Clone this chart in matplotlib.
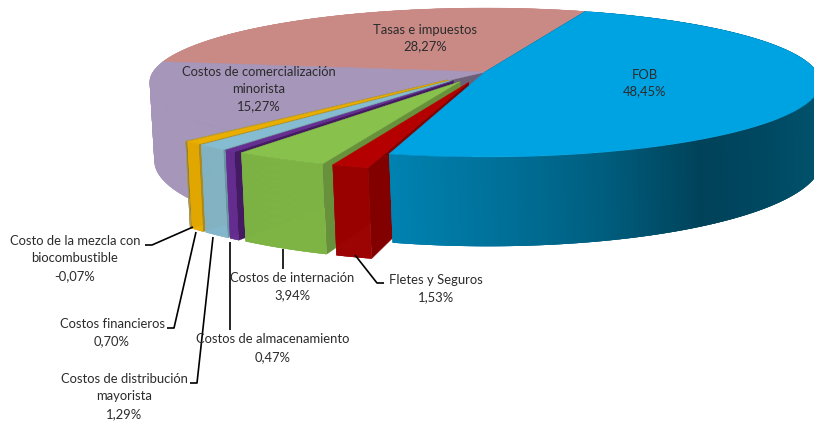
import matplotlib
matplotlib.use('Agg')

import matplotlib.pyplot as plt
import numpy as np

# values as printed on the chart, clockwise from FOB
categories = ['FOB', 'Fletes y Seguros', 'Costos de internación', 'Costos de almacenamiento',
              'Costos de distribución mayorista', 'Costos financieros',
              'Costo de la mezcla con biocombustible', 'Costos de comercialización minorista',
              'Tasas e impuestos']
values = [48.45, 1.53, 3.94, 0.47, 1.29, 0.70, -0.07, 15.27, 28.27]
value_labels = ['48,45%', '1,53%', '3,94%', '0,47%', '1,29%', '0,70%', '-0,07%', '15,27%', '28,27%']

top_colors = ['#00a3e2', '#b40000', '#88c14b', '#672e92', '#85bcd1', '#e9ae00', '#b09a50', '#a596ba', '#c98a86']
front_colors = ['#0082b0', '#9c0000', '#7db444', '#652c90', '#82b6ca', '#e9ae00', '#b09a50', '#a596ba', '#c98a86']
side_colors = ['#00465f', '#820000', '#67913a', '#441a62', '#6a94a4', '#a88a20', '#8a7a40', '#6c5f78', '#8a5f5c']

exploded = [False, True, True, True, True, True, True, False, False]

# projection of the pie disc onto the picture, in pixels
CX, CY, RX, RY, PERSP = 485, 72, 332, 73, 0.141
BOT_CX, BOT_CY, BOT_RY, BOT_SCALE = 488, 148.5, 84, 0.995
EXPLODE = 0.145
EXPLODE_X = 1.12
START_ANGLE = 20


def project(u, v, bottom=False):
    w = 1 - PERSP * np.asarray(v)
    if bottom:
        return BOT_CX + RX * BOT_SCALE * np.asarray(u) / w, BOT_CY + BOT_RY * np.asarray(v) / w
    return CX + RX * np.asarray(u) / w, CY + RY * np.asarray(v) / w


def slice_uv(a1, a2, offset, n=60):
    t = np.radians(np.linspace(a1, a2, n))
    mid = np.radians((a1 + a2) / 2)
    du, dv = offset * EXPLODE_X * np.sin(mid), -offset * np.cos(mid)
    return np.sin(t) + du, -np.cos(t) + dv, du, dv


def draw_poly(ax, xs, ys, color, z, lw=0.3):
    ax.fill(xs, ys, facecolor=color, edgecolor=color if lw else 'none', linewidth=lw, zorder=z)


def draw_slice(ax, a1, a2, offset, top, front, side, z, gradient=None):
    u, v, cu, cv = slice_uv(a1, a2, offset)
    tx, ty = project(u, v)
    bx, by = project(u, v, bottom=True)
    ctx, cty = project(cu, cv)
    cbx, cby = project(cu, cv, bottom=True)
    # cut face on the low angle side
    draw_poly(ax, [ctx, tx[0], bx[0], cbx], [cty, ty[0], by[0], cby], side, z)
    # outer wall as overlapping strips, so no seams show
    uw, vw, _, _ = slice_uv(a1, a2, offset, n=240)
    wx, wy = project(uw, vw)
    wbx, wby = project(uw, vw, bottom=True)
    for i in range(len(wx) - 1):
        j = min(i + 3, len(wx) - 1)
        if gradient is None:
            c = front
        else:
            xm = (wx[i] + wx[i + 1]) / 2
            c = [np.interp(xm, gradient[0], gradient[1][k]) for k in range(3)]
        draw_poly(ax, [wx[i], wx[j], wbx[j], wbx[i]], [wy[i], wy[j], wby[j], wby[i]], c, z + 0.1, lw=0)
    # top face
    draw_poly(ax, np.r_[ctx, tx], np.r_[cty, ty], top, z + 0.2)


fig = plt.figure(figsize=(8.14, 4.24), dpi=100)
ax = fig.add_axes([0, 0, 1, 1])
ax.set_xlim(0, 814)
ax.set_ylim(424, 0)
ax.axis('off')

shares = np.abs(values) / np.abs(values).sum() * 360
starts = START_ANGLE + np.r_[0, np.cumsum(shares)[:-1]]
ends = starts + shares

blue_wall = ([390, 500, 600, 700, 760, 814],
             [[0, 0, 0, 0, 0, 0],
              [0.51, 0.44, 0.37, 0.26, 0.28, 0.32],
              [0.69, 0.60, 0.50, 0.35, 0.38, 0.42]])

# far slices first, then the exploded ones from orange forward, FOB last
order = [8, 7, 6, 5, 4, 3, 2, 1, 0]
for z, i in enumerate(order):
    off = EXPLODE if exploded[i] else 0
    draw_slice(ax, starts[i], ends[i], off, top_colors[i], front_colors[i], side_colors[i], z * 2 + 1,
               gradient=blue_wall if i == 0 else None)

# leader lines, pixel positions
leaders = [
    [(145, 245), (152, 245), (193, 227)],
    [(167, 328), (174, 328), (196, 232)],
    [(190, 383), (197, 383), (213, 237)],
    [(230, 330), (230, 242)],
    [(283, 269), (283, 249)],
    [(384, 283), (377, 283), (355, 255)],
]
for pts in leaders:
    xs, ys = zip(*pts)
    ax.plot(xs, ys, color='black', lw=1.2, zorder=30, solid_capstyle='butt')

label_pos = {
    'FOB': (645, [75, 91]),
    'Fletes y Seguros': (436, [280, 297]),
    'Costos de internación': (292, [278, 295]),
    'Costos de almacenamiento': (273, [339, 357]),
    'Costos de distribución mayorista': (124, [379, 396, 414]),
    'Costos financieros': (112, [324, 341]),
    'Costo de la mezcla con biocombustible': (75, [241, 258, 276]),
    'Costos de comercialización minorista': (259, [72, 89, 106]),
    'Tasas e impuestos': (425, [30, 46]),
}
wrapped = {
    'Costos de distribución mayorista': ['Costos de distribución', 'mayorista'],
    'Costo de la mezcla con biocombustible': ['Costo de la mezcla con', 'biocombustible'],
    'Costos de comercialización minorista': ['Costos de comercialización', 'minorista'],
}
for name, val in zip(categories, value_labels):
    x, ys = label_pos[name]
    lines = wrapped.get(name, [name]) + [val]
    for y, line in zip(ys, lines):
        ax.text(x, y, line, ha='center', va='center', fontsize=9.4, family='Lato',
                color='#2b2b2b', zorder=40)

fig.savefig('out.png', dpi=100)
